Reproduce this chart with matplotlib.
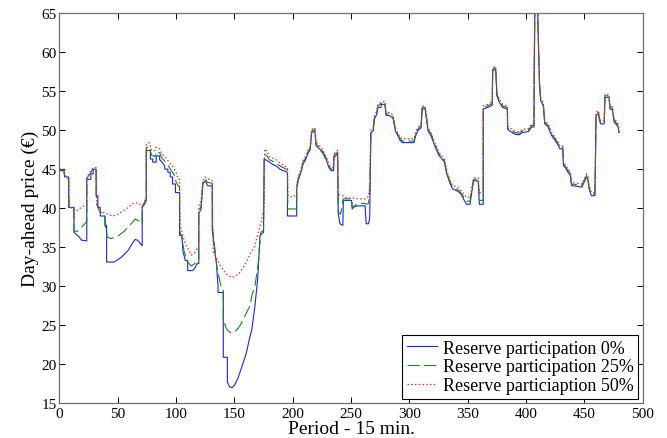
import matplotlib
matplotlib.use("Agg")
import matplotlib.pyplot as plt

plt.rcParams['font.family'] = ['Liberation Serif', 'DejaVu Serif']

# dati: periodo (15 min) e prezzo day-ahead per ogni scenario ---------------
blue_t = [0, 4, 4.5, 8, 8, 12.5, 12.5, 15, 17, 19, 23.5, 23.5, 27, 27, 29, 29, 31.5, 31.5, 33, 33,
          35, 35, 39, 39, 40.5, 40.5, 47, 53, 59, 63, 65, 67, 71, 71, 73, 74.5, 74.5, 78, 78, 80,
          80, 83, 83, 86, 86, 88, 90, 90.5, 93, 93, 95, 95, 97, 97, 99.5, 99.5, 103, 103, 105, 106,
          108, 110, 110, 114, 116, 118, 119.5, 119.5, 121.5, 123, 125, 127, 131, 131, 133, 134.5, 136, 136, 140.5, 140.5,
          144, 144, 146, 148, 150, 153, 156, 160, 163, 165, 167.5, 170, 172, 175, 175.5, 178, 180, 183,
          186, 189, 192, 195.5, 195.5, 203.4, 203.4, 205, 207, 209, 211, 213, 215, 216.3, 219, 220, 223, 226,
          229, 231, 233, 235, 235.4, 238.5, 239, 240.5, 243, 243.4, 250.5, 251, 253, 256, 259, 262, 263, 265,
          266, 267, 269, 270, 272, 273, 275.5, 276, 279, 280, 284, 286, 288, 290, 292, 294, 304, 305,
          307, 310, 311, 313.5, 315, 316, 318.5, 320, 322, 323.5, 325, 327, 330, 332, 335, 337, 341, 343,
          345, 347, 349, 352, 353, 355, 359, 360, 363.3, 363.3, 367, 371, 371.4, 374, 375, 377, 380, 384,
          384.2, 387, 390, 394, 397, 402, 404.8, 406.8, 407, 407.5, 410, 410.5, 411.5, 412.5, 414.8, 416, 419, 421,
          422, 424.8, 427, 429, 431.5, 432, 434, 436, 438, 439, 448, 449, 452, 453, 454, 456, 459, 459.6,
          460, 462, 463, 464, 467, 467.6, 471, 472, 474, 475.5, 477, 479, 479.5, 480]
blue_v = [44.8, 44.8, 44.0, 44.0, 40.1, 40.1, 36.9, 36.6, 36.3, 35.9, 35.8, 43.7, 43.7, 44.4, 44.4, 45.0, 45.0, 41.6, 41.6, 40.1,
          40.1, 39.0, 39.0, 37.8, 37.8, 33.1, 33.1, 33.7, 34.6, 35.6, 36.0, 35.9, 35.2, 40.1, 40.5, 41.0, 47.4, 47.4, 46.3, 46.3,
          45.9, 45.9, 46.7, 46.7, 46.2, 45.9, 45.5, 45.0, 45.0, 44.6, 44.6, 44.0, 44.0, 43.1, 43.1, 42.0, 42.0, 36.5, 36.5, 34.4,
          33.3, 33.3, 32.0, 32.0, 32.3, 32.9, 32.9, 39.3, 39.9, 43.1, 43.5, 42.9, 42.8, 37.3, 34.8, 33.1, 30.1, 29.2, 29.2, 20.9,
          20.9, 17.7, 17.1, 17.0, 17.3, 18.2, 19.5, 21.3, 23.3, 24.5, 27.3, 31.0, 36.5, 36.9, 46.3, 46.1, 45.9, 45.6,
          45.4, 45.0, 44.8, 44.6, 39.0, 39.0, 42.5, 43.7, 44.6, 45.7, 46.2, 47.0, 47.5, 49.7, 49.9, 48.0, 47.6, 47.0,
          46.1, 45.2, 44.8, 44.8, 46.5, 47.0, 39.3, 38.0, 37.8, 41.0, 41.0, 39.9, 40.2, 40.3, 40.3, 40.3, 38.0, 38.0,
          38.8, 49.7, 49.9, 51.4, 52.0, 52.9, 52.9, 53.3, 53.3, 51.9, 51.8, 51.5, 49.9, 49.3, 48.7, 48.4, 48.4, 49.1,
          49.9, 50.3, 52.7, 52.7, 51.0, 49.9, 49.3, 48.7, 47.9, 47.4, 46.8, 46.5, 45.9, 44.4, 43.1, 42.5, 42.2, 42.0,
          41.6, 41.0, 40.5, 40.5, 41.6, 43.5, 43.5, 40.5, 40.5, 52.7, 52.9, 53.2, 57.6, 57.8, 54.4, 53.6, 52.9, 52.7,
          50.1, 49.8, 49.5, 49.4, 49.7, 49.8, 50.4, 50.4, 57.4, 65.0, 65.0, 61.7, 56.0, 53.8, 53.1, 50.8, 50.4, 49.6,
          49.3, 48.7, 48.2, 47.6, 47.6, 45.5, 45.1, 44.6, 44.2, 42.9, 42.7, 43.1, 44.0, 43.7, 42.5, 41.6, 41.6, 47.2,
          51.9, 52.1, 51.2, 50.8, 50.8, 54.2, 54.2, 52.7, 52.6, 51.0, 50.8, 50.4, 49.7, 49.7]

green_t = [0, 4, 4.5, 8, 8.2, 12.5, 12.5, 15, 18, 21, 23.5, 23.5, 27, 29, 31.5, 31.8, 33, 35, 39, 39.5,
           40.5, 40.8, 44.5, 50, 56, 61.5, 65, 68, 71, 71, 73, 74.5, 74.5, 77, 79, 82, 83, 86, 88, 90,
           92, 94, 96, 98, 100, 102, 103, 103.2, 105, 107, 110, 113, 116, 118, 119.5, 119.5, 121.5, 123, 125, 127,
           131, 131.3, 133, 135, 136.5, 139, 140.5, 140.5, 143, 146, 148, 152, 155, 157.7, 160, 163.4, 165, 167.7, 169, 170.5,
           172.6, 175, 175.7, 178, 180, 183, 186, 189, 192, 195.5, 195.8, 203.4, 203.4, 205, 207, 209, 211, 213, 215, 216.3,
           219, 220, 223, 226, 229, 231, 233, 235, 235.4, 238.5, 239, 241, 242, 243.4, 250.5, 251, 253, 256, 259, 262,
           263, 265, 266, 267, 269, 270, 272, 273, 276, 279, 280, 284, 286, 288, 290, 292, 294, 304, 305, 307,
           310, 311, 313.5, 315, 316, 318.5, 320, 322, 323.5, 325, 327, 330, 332, 335, 337, 341, 343, 345, 347, 349,
           352, 353, 355, 359, 360, 363.3, 363.3, 367, 371, 371.4, 374, 375, 377, 380, 384, 384.2, 387, 390, 394, 397,
           402, 404.8, 406.8, 407, 407.5, 410, 410.5, 411.5, 412.5, 414.8, 416, 419, 421, 422, 424.8, 427, 429, 431.5, 432, 434,
           436, 438, 439, 448, 449, 452, 453, 454, 456, 459, 459.6, 460, 462, 463, 464, 467, 467.6, 471, 472, 474,
           475.5, 477, 479, 479.5, 480]
green_v = [44.9, 44.9, 44.1, 44.0, 40.1, 40.1, 37.1, 37.0, 37.4, 37.9, 38.3, 43.8, 44.6, 45.1, 45.1, 41.0, 40.1, 39.5, 39.2, 37.5,
           37.3, 36.3, 36.1, 36.4, 37.1, 38.0, 38.6, 38.4, 38.0, 40.2, 40.7, 41.1, 47.8, 47.9, 46.8, 46.6, 47.2, 47.1, 46.4, 46.1,
           45.7, 45.3, 44.8, 44.4, 43.4, 42.8, 42.8, 37.0, 36.3, 34.4, 33.1, 32.6, 32.9, 33.4, 33.5, 39.6, 40.3, 43.3, 43.8, 43.3,
           43.2, 37.5, 35.2, 32.5, 31.4, 29.7, 29.5, 25.8, 24.6, 24.1, 24.1, 24.4, 25.0, 25.8, 26.5, 27.5, 28.8, 30.1, 31.4, 33.0,
           36.9, 37.2, 46.9, 46.7, 46.2, 46.0, 45.8, 45.4, 45.2, 44.9, 39.9, 39.9, 42.8, 43.9, 44.8, 45.9, 46.4, 47.2, 47.7, 49.9,
           50.1, 48.2, 47.8, 47.2, 46.3, 45.4, 45.0, 45.0, 46.8, 47.2, 39.6, 39.2, 40.0, 41.2, 41.2, 40.0, 40.3, 40.6, 40.6, 40.6,
           40.5, 40.6, 42.0, 49.8, 50.1, 51.6, 52.2, 53.1, 53.4, 53.5, 52.1, 52.0, 51.7, 50.1, 49.5, 48.9, 48.6, 48.6, 49.3, 50.1,
           50.5, 52.9, 52.9, 51.2, 50.1, 49.5, 48.9, 48.1, 47.6, 47.0, 46.7, 46.1, 44.6, 43.3, 42.7, 42.4, 42.2, 41.8, 41.3, 40.9,
           40.9, 41.9, 43.7, 43.7, 41.0, 41.0, 52.9, 53.1, 53.4, 57.8, 58.0, 54.6, 53.8, 53.1, 52.9, 50.3, 50.0, 49.7, 49.6, 49.9,
           50.0, 50.6, 50.6, 57.6, 65.1, 65.1, 61.9, 56.2, 54.0, 53.3, 51.0, 50.6, 49.8, 49.5, 48.9, 48.4, 47.8, 47.8, 45.7, 45.3,
           44.8, 44.4, 43.1, 42.9, 43.3, 44.2, 43.9, 42.7, 41.8, 41.8, 47.4, 52.1, 52.3, 51.4, 51.0, 51.0, 54.4, 54.4, 52.9, 52.8,
           51.2, 51.0, 50.6, 49.9, 49.9]

red_t = [0, 4, 4.5, 6.5, 8, 8.5, 10, 12, 14, 17, 20, 23.5, 23.5, 27, 29, 31.5, 32, 34, 36, 39,
         42, 46, 50, 54, 59, 63, 66, 69, 71, 73, 74.5, 74.5, 77, 79, 82, 83, 86, 88, 90, 92,
         94, 96, 98, 100, 102, 103, 103.5, 106, 108, 111, 113, 116, 118, 119.5, 119.5, 121.5, 123, 125, 127, 130,
         131, 131.5, 132, 135, 138, 143, 147.5, 151, 155, 160, 164, 167, 170.5, 173.5, 175.5, 176, 178, 180, 183, 186,
         189, 192, 195.5, 196, 200, 203.4, 203.4, 205, 207, 209, 211, 213, 215, 216.3, 219, 220, 223, 226, 229, 231,
         233, 235, 235.4, 238.5, 239, 243, 247, 252, 256, 262, 265, 266, 267, 269, 270, 272, 273, 276, 279, 280,
         284, 286, 288, 290, 292, 294, 304, 305, 307, 310, 311, 313.5, 315, 316, 318.5, 320, 322, 323.5, 325, 327,
         330, 332, 335, 337, 341, 343, 345, 347, 349, 352, 353, 355, 359, 360, 363, 363.3, 367, 371, 371.4, 374,
         375, 377, 380, 384, 384.2, 387, 390, 394, 397, 402, 404.8, 406.8, 407, 407.5, 410, 410.5, 411.5, 412.5, 414.8, 416,
         419, 421, 422, 424.8, 427, 429, 431.5, 432, 434, 436, 438, 439, 448, 449, 452, 453, 454, 456, 459, 459.6,
         460, 462, 463, 464, 467, 467.6, 471, 472, 474, 475.5, 477, 479, 479.5, 480]
red_v = [45.0, 45.0, 44.2, 44.0, 43.6, 40.5, 40.1, 39.7, 39.6, 39.9, 40.2, 40.5, 44.0, 44.8, 45.2, 45.2, 40.5, 39.8, 39.5, 39.4,
         39.2, 39.0, 39.2, 39.6, 40.1, 40.6, 40.7, 40.5, 40.1, 41.0, 41.2, 48.2, 48.4, 47.4, 47.4, 47.8, 47.6, 46.9, 46.7, 46.3,
         45.9, 45.5, 45.2, 44.6, 43.7, 43.7, 37.8, 36.5, 35.4, 34.6, 34.0, 34.3, 34.8, 35.0, 40.3, 41.0, 43.5, 44.0, 43.8, 43.6,
         43.5, 37.8, 34.4, 33.5, 32.6, 31.6, 31.1, 31.3, 31.8, 33.0, 34.3, 35.0, 36.9, 38.5, 40.0, 47.6, 47.3, 46.6, 46.4, 46.2,
         45.8, 45.5, 45.2, 41.6, 41.4, 41.8, 43.0, 44.1, 45.0, 46.2, 46.6, 47.4, 47.9, 50.1, 50.3, 48.4, 48.0, 47.4, 46.5, 45.6,
         45.2, 45.3, 47.0, 47.4, 41.8, 41.6, 41.3, 41.3, 41.2, 41.2, 41.5, 42.9, 50.0, 50.3, 51.8, 52.4, 53.3, 53.6, 53.7, 52.3,
         52.2, 51.9, 50.3, 49.6, 49.1, 48.9, 48.9, 49.5, 50.3, 50.7, 53.1, 53.1, 51.4, 50.3, 49.7, 49.1, 48.3, 47.8, 47.2, 46.9,
         46.3, 44.8, 43.5, 42.9, 42.7, 42.5, 42.1, 41.8, 41.4, 41.4, 42.2, 43.9, 43.9, 42.0, 42.0, 53.1, 53.3, 53.6, 58.0, 58.2,
         54.8, 54.0, 53.3, 53.1, 50.5, 50.2, 49.9, 49.8, 50.1, 50.2, 50.8, 50.8, 57.8, 65.2, 65.2, 62.0, 56.4, 54.2, 53.5, 51.2,
         50.8, 50.0, 49.7, 49.1, 48.6, 48.0, 48.0, 45.9, 45.5, 45.0, 44.6, 43.3, 43.1, 43.5, 44.4, 44.1, 42.9, 42.0, 42.0, 47.6,
         52.3, 52.5, 51.6, 51.2, 51.2, 54.6, 54.6, 53.1, 53.0, 51.4, 51.2, 50.8, 50.1, 50.1]

labels = ["Reserve participation 0%", "Reserve participation 25%", "Reserve particiaption 50%"]

# grafico ------------------------------------------------------------------
fig = plt.figure(figsize=(6.67, 4.39), dpi=100)
ax = fig.add_axes([0.089, 0.079, 0.8746, 0.889])

ax.plot(blue_t, blue_v, color="#1f1fff", linewidth=0.8, label=labels[0])
ax.plot(green_t, green_v, color="#108a10", linewidth=0.8, dashes=(11, 4), label=labels[1])
ax.plot(red_t, red_v, color="#ff2020", linewidth=0.9, dashes=(1.2, 1.8), label=labels[2])

ax.set_xlim(0, 500)
ax.set_ylim(15, 65)
ax.set_xticks(range(0, 501, 50))
ax.set_yticks(range(15, 66, 5))
ax.tick_params(direction="in", top=True, right=True, labelsize=11, length=4, width=0.7)
ax.tick_params(axis="x", pad=3)
ax.tick_params(axis="y", pad=2)
for s in ax.spines.values():
    s.set_color("#707070")
    s.set_linewidth(0.9)

ax.set_xlabel("Period - 15 min.", fontsize=14, labelpad=0)
ax.set_ylabel("Day-ahead price (€)", fontsize=14, labelpad=2)

leg = ax.legend(loc="lower right", fontsize=13, fancybox=False, framealpha=1,
                edgecolor="black", handlelength=1.7, labelspacing=0.1,
                borderaxespad=0.25, borderpad=0.25, handletextpad=0.3)
leg.get_frame().set_linewidth(0.8)

fig.savefig("out.png", dpi=100)
